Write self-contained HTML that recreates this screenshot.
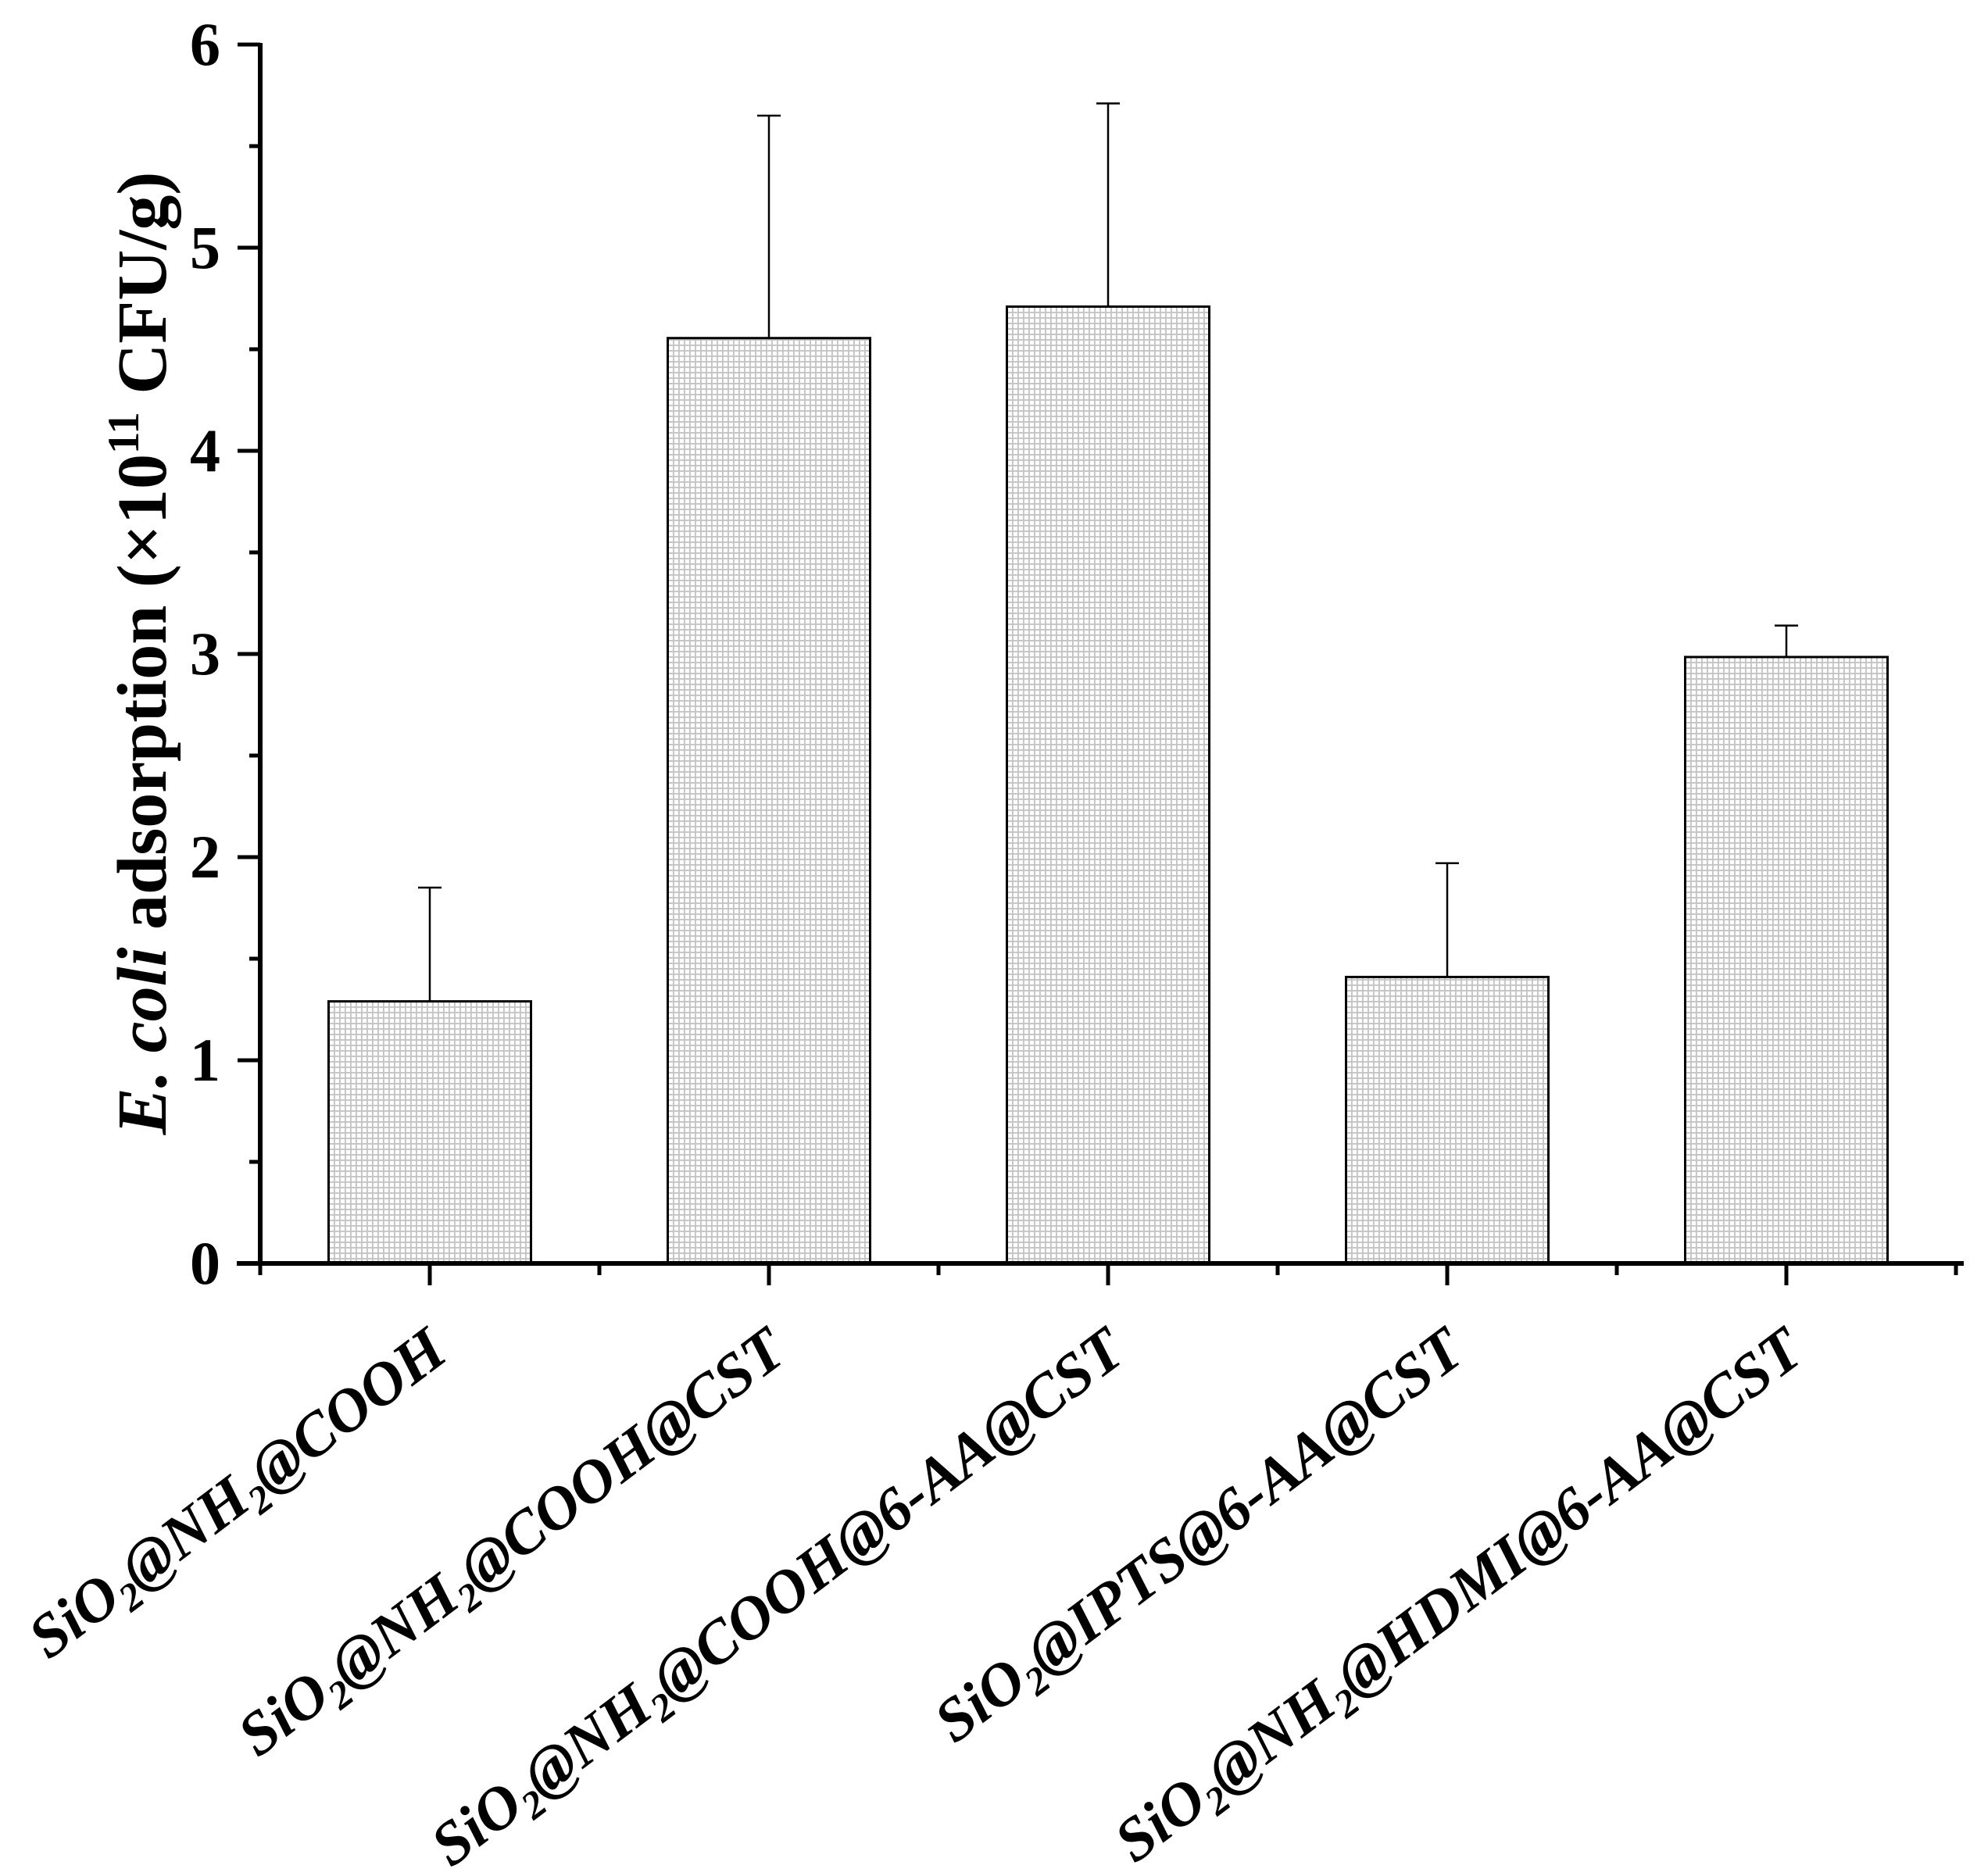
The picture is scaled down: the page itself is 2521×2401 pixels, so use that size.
<!DOCTYPE html>
<html><head><meta charset="utf-8"><style>
html,body{margin:0;padding:0;background:#fff;}
svg{display:block;font-family:"Liberation Serif",serif;font-weight:bold;}
</style></head><body>
<svg id="chart" width="2521" height="2401" viewBox="0 0 2521 2401" xmlns="http://www.w3.org/2000/svg">
<defs>
<pattern id="grid" width="7" height="7" patternUnits="userSpaceOnUse">
<rect width="7" height="7" fill="#ffffff"/>
<path d="M0 0.75H7M0.75 0V7" stroke="#c4c4c4" stroke-width="2.2" fill="none"/>
</pattern>
</defs>
<g id="plot"></g>
<text transform="translate(212,836) rotate(-90)" text-anchor="middle" font-size="90"><tspan font-style="italic">E. coli</tspan> adsorption (×10<tspan font-size="57" dy="-35">11</tspan><tspan dy="35"> CFU/g)</tspan></text>
</svg>
<script>
const categories = ["SiO2@NH2@COOH","SiO2@NH2@COOH@CST","SiO2@NH2@COOH@6-AA@CST","SiO2@IPTS@6-AA@CST","SiO2@NH2@HDMI@6-AA@CST"];
const values = [1.29, 4.555, 4.71, 1.41, 2.985];
const errors = [0.56, 1.095, 1.0, 0.56, 0.155];
const yTicks = [0,1,2,3,4,5,6];
const yTickLabels = ["0","1","2","3","4","5","6"];

const NS = "http://www.w3.org/2000/svg";
const g = document.getElementById('plot');
const x0 = 333, step = 434, yBase = 1617, pxPerUnit = 260, barW = 259;
function xc(i){ return x0 + step*(i+0.5); }
function y(v){ return yBase - v*pxPerUnit; }
function mk(tag, attrs){ const e=document.createElementNS(NS,tag); for(const k in attrs) e.setAttribute(k,attrs[k]); g.appendChild(e); return e; }

categories.forEach((c,i)=>{
  const cx = xc(i);
  const bar = mk('rect',{x:cx-barW/2,y:y(values[i]),width:barW,height:yBase-y(values[i]),fill:'url(#grid)',stroke:'#000','stroke-width':3});
  
  
  const el = mk('path',{d:`M${cx} ${y(values[i])}V${y(values[i]+errors[i])}M${cx-15} ${y(values[i]+errors[i])}H${cx+15}`,stroke:'#000','stroke-width':2.5,fill:'none'});
  
  
  const tk = mk('line',{x1:cx,x2:cx,y1:yBase,y2:1645,stroke:'#000','stroke-width':5});
  
  
  const t = mk('text',{transform:`translate(${cx+26},1738) rotate(-37)`,'text-anchor':'end','font-size':78,'font-style':'italic'});
  
  
  const parts = c.split('2');
  parts.forEach((p,j)=>{
    const s=document.createElementNS(NS,'tspan'); s.textContent=p; t.appendChild(s);
    if(j<parts.length-1){
      const sub=document.createElementNS(NS,'tspan');
      const prev=p.slice(-1);
      if(prev==='O'||prev==='H'){ sub.textContent='2'; sub.setAttribute('font-size','50'); sub.setAttribute('dy','15');
        t.appendChild(sub);
        const back=document.createElementNS(NS,'tspan'); back.setAttribute('dy','-15'); back.textContent='\u200b'; t.appendChild(back);
      } else { sub.textContent='2'; t.appendChild(sub); }
    }
  });
});
for(let i=0;i<=categories.length;i++){
  const x = x0 + step*i;
  const mt = mk('line',{x1:x,x2:x,y1:yBase,y2:1632,stroke:'#000','stroke-width':5});
  
  
}
yTicks.forEach((v,i)=>{
  const tk = mk('line',{x1:304,x2:x0,y1:y(v),y2:y(v),stroke:'#000','stroke-width':5});
  
  
  if(i<yTicks.length-1){
    const mt = mk('line',{x1:319,x2:x0,y1:y(v+0.5),y2:y(v+0.5),stroke:'#000','stroke-width':5});
    
    
  }
  const lb = mk('text',{x:282,y:y(v)+26,'text-anchor':'end','font-size':78});
  lb.textContent = yTickLabels[i];
  
  
});
const ya = mk('line',{x1:x0,x2:x0,y1:y(6)-2,y2:yBase+3,stroke:'#000','stroke-width':6});


const xa = mk('line',{x1:303,x2:2513,y1:yBase,y2:yBase,stroke:'#000','stroke-width':6});


</script>
</body></html>
